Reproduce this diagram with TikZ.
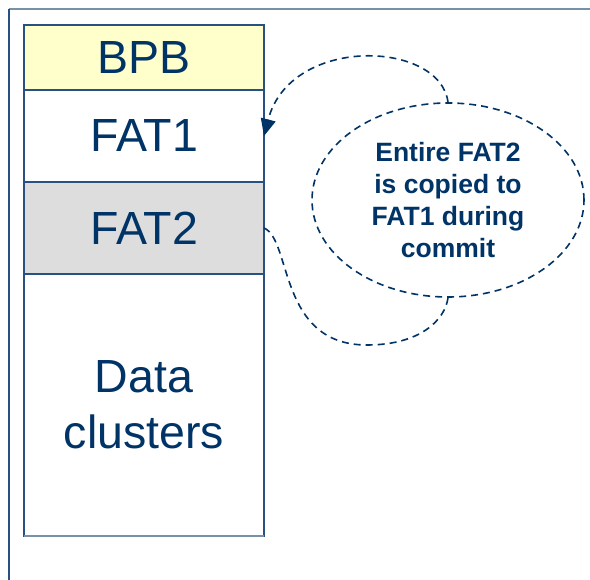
\documentclass[tikz,border=0pt]{standalone}
\usepackage{fontspec}
\setmainfont{Liberation Sans}
\usetikzlibrary{positioning, shapes.geometric, arrows.meta}
\definecolor{navy}{RGB}{0,51,102}
\definecolor{boxblue}{RGB}{40,80,130}
\definecolor{framegrey}{RGB}{120,145,170}
\definecolor{bpbyellow}{RGB}{255,255,204}
\definecolor{fatgrey}{RGB}{221,221,221}

\begin{document}
\begin{tikzpicture}[
    x=1pt, y=-1pt,
    cell/.style={rectangle, draw=boxblue, line width=1.3pt, minimum width=240pt, inner sep=0pt, outer sep=0pt,
                 text=navy, font=\fontsize{46.5}{56}\selectfont, align=center},
    note/.style={ellipse, draw=navy, dashed, dash pattern=on 7pt off 5pt, line width=1.6pt, minimum width=272pt,
                 minimum height=194pt, inner sep=0pt, text=navy, font=\bfseries\fontsize{26.5}{32}\selectfont, align=center},
    copyline/.style={draw=navy, dashed, dash pattern=on 7pt off 5pt, line width=1.6pt},
]
    \useasboundingbox (0,0) rectangle (590,580);

    % Frame
    \draw[framegrey, line width=1.8pt] (9,9) -- (590,9);
    \draw[boxblue, line width=1.3pt] (9,9) -- (9,580);

    % Nodes
    \node[cell, fill=bpbyellow, minimum height=65pt, anchor=north west] (BPB) at (24,25) {BPB};
    \node[cell, minimum height=92pt, below=0pt of BPB] (FAT1) {FAT1};
    \node[cell, fill=fatgrey, minimum height=92pt, below=0pt of FAT1] (FAT2) {FAT2};
    \node[cell, minimum height=262pt, below=0pt of FAT2] (Data) {Data\\clusters};
    \draw[framegrey, line width=2pt] (Data.south west) -- (Data.south east);

    \node[note] (Note) at (448,200) {Entire FAT2\\is copied to\\FAT1 during\\commit};
    \coordinate (loop) at (367,345);

    % Lines
    \draw[copyline, -{Triangle[length=17pt, width=15pt]}] (Note.north) .. controls (440,40) and (290,35) .. (FAT1.east);
    \draw[copyline] (FAT2.east) .. controls (292,240) and (278,345) .. (loop)
                                .. controls (420,345) and (445,320) .. (Note.south);
\end{tikzpicture}
\end{document}
